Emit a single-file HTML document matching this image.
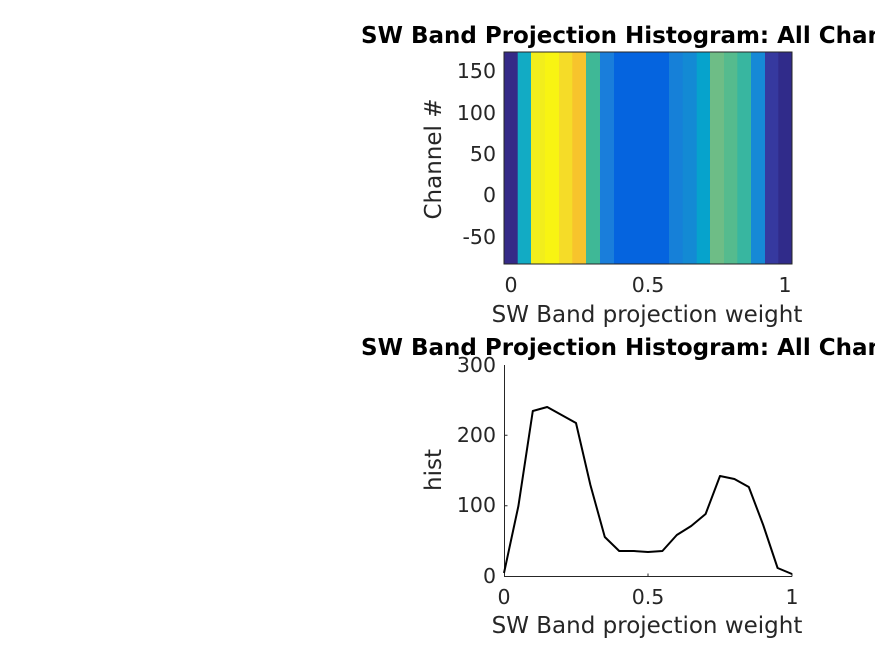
<!DOCTYPE html>
<html><head><style>body{margin:0;background:#fff}svg{display:block}</style></head><body>
<svg width="875" height="656" xmlns="http://www.w3.org/2000/svg" font-family="'DejaVu Sans','Liberation Sans',sans-serif">
<rect width="875" height="656" fill="#fff"/>
<g>
<rect x="504" y="52" width="14" height="212" fill="#352a87"/>
<rect x="517.7" y="52" width="14" height="212" fill="#12abc4"/>
<rect x="531" y="52" width="14.5" height="212" fill="#f2ee1c"/>
<rect x="545" y="52" width="14.5" height="212" fill="#f8f412"/>
<rect x="559" y="52" width="14" height="212" fill="#f5dc28"/>
<rect x="572.3" y="52" width="14" height="212" fill="#f7c42c"/>
<rect x="586" y="52" width="14.5" height="212" fill="#3fb896"/>
<rect x="600" y="52" width="14.5" height="212" fill="#1a7edb"/>
<rect x="614" y="52" width="55.5" height="212" fill="#0564df"/>
<rect x="669" y="52" width="14" height="212" fill="#1680d8"/>
<rect x="682.7" y="52" width="14.5" height="212" fill="#138ad4"/>
<rect x="696.7" y="52" width="14" height="212" fill="#06a3cc"/>
<rect x="710" y="52" width="14.5" height="212" fill="#6ebd86"/>
<rect x="724" y="52" width="14" height="212" fill="#55bb8e"/>
<rect x="737.3" y="52" width="14" height="212" fill="#38b6a0"/>
<rect x="751" y="52" width="14.5" height="212" fill="#1689d6"/>
<rect x="765" y="52" width="13.7" height="212" fill="#36399f"/>
<rect x="778.3" y="52" width="14" height="212" fill="#302b8a"/>
<rect x="504" y="52" width="288" height="212" fill="none" stroke="#262626" stroke-width="1"/>
</g>
<g font-size="20.5" fill="#262626" text-anchor="end">
<text x="496" y="78">150</text><text x="496" y="120">100</text><text x="496" y="161">50</text><text x="496" y="202">0</text><text x="496" y="244">-50</text>
</g>
<g font-size="20.5" fill="#262626" text-anchor="middle">
<text x="511" y="292">0</text><text x="648" y="292">0.5</text><text x="785" y="292">1</text>
<text x="647" y="322" font-size="23">SW Band projection weight</text>
<text transform="translate(441,159) rotate(-90)" font-size="23">Channel #</text>
</g>
<text x="361" y="43" font-size="23" font-weight="bold" fill="#000">SW Band Projection Histogram: All Channels</text>

<text x="361" y="355" font-size="23" font-weight="bold" fill="#000">SW Band Projection Histogram: All Channels</text>
<path d="M504.5,365V576.5H792" fill="none" stroke="#262626" stroke-width="1"/>
<path d="M504.5,435.3h3M504.5,505.7h3M648,576.5v-3M792,576.5v-3" stroke="#262626"/>
<g font-size="20.5" fill="#262626" text-anchor="end">
<text x="496" y="372">300</text><text x="496" y="442">200</text><text x="496" y="512">100</text><text x="496" y="583">0</text>
</g>
<g font-size="20.5" fill="#262626" text-anchor="middle">
<text x="504" y="604">0</text><text x="648" y="604">0.5</text><text x="792" y="604">1</text>
<text x="647" y="633" font-size="23">SW Band projection weight</text>
<text transform="translate(441,470) rotate(-90)" font-size="23">hist</text>
</g>
<polyline fill="none" stroke="#000" stroke-width="2" stroke-linejoin="round" points="504,573 518.4,506 532.8,411 547.2,407 561.6,415 576,423 590.4,485 604.8,537 619.2,551 633.6,551 648,552 662.4,551 676.8,535 691.2,526 705.6,514 720,476 734.4,479 748.8,487 763.2,525 777.6,568 792,574"/>
</svg>
</body></html>
